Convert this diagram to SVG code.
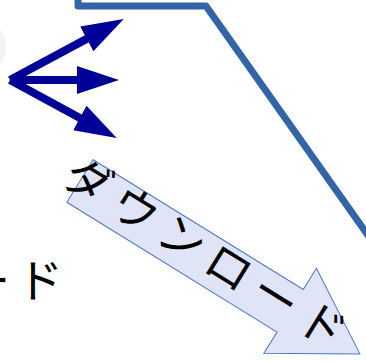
<svg xmlns="http://www.w3.org/2000/svg" width="366" height="361" viewBox="0 0 366 361">
<style>
.jp{font-family:"Noto Sans CJK JP","Noto Sans",sans-serif;font-size:46px;fill:#000}
.dark{stroke:#000099;stroke-width:8;fill:none;stroke-linecap:butt}
</style>
<defs>
<marker id="head" markerUnits="userSpaceOnUse" markerWidth="44" markerHeight="30" refX="20" refY="14" orient="auto" viewBox="0 0 44 28">
<path d="M0,0 L42,14 L0,28 z" fill="#000099"/>
</marker>
</defs>
<rect width="366" height="361" fill="#fff"/>
<circle cx="-22" cy="47" r="28" fill="#f3f3f3"/>
<g id="line">
<path d="M78,-6 L78,6 L206,6 L372,241" fill="none" stroke="#3464A8" stroke-width="7" stroke-linejoin="round"/>
</g>
<g id="connectors">
<path class="dark" d="M10,80 L104.4,29.4" marker-end="url(#head)"/>
<path class="dark" d="M10,80 L97,80" marker-end="url(#head)"/>
<path class="dark" d="M10,80 L97.4,127.5" marker-end="url(#head)"/>
</g>
<g id="download-arrow" transform="translate(80,181) rotate(31.7)">
<polygon points="0,-25 247,-25 247,-50 329,0 247,50 247,25 0,25" fill="#DFE4F7" stroke="#4A76C0" stroke-width="1"/>
<text class="jp" x="-16" y="12" letter-spacing="9">ダウンロード</text>
</g>
<g id="left-text">
<text class="jp" x="-36" y="297">ー<tspan dx="7">ド</tspan></text>
</g>
</svg>
